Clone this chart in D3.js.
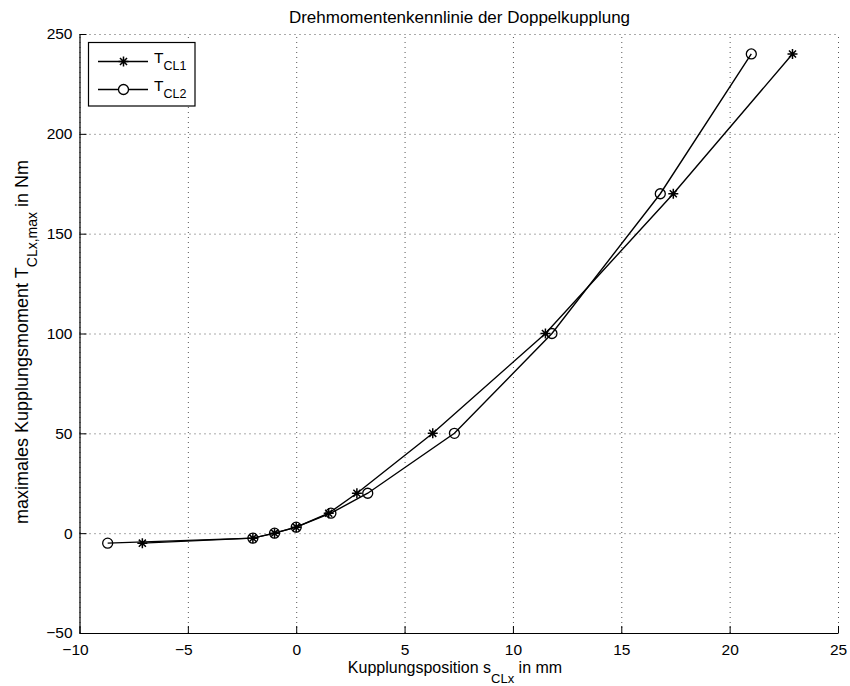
<!DOCTYPE html>
<html>
<head>
<meta charset="utf-8">
<script src="https://cdn.jsdelivr.net/npm/d3@7"></script>
<style>
  body { margin: 0; background: #fff; }
  svg text { font-family: "Liberation Sans", Arial, Helvetica, sans-serif; fill: #000; }
</style>
</head>
<body>
<svg id="chart" width="850" height="686"></svg>
<script>
// data
let posCL1 = [-7.1, -2, -1, 0, 1.5, 2.8, 6.3, 11.5, 17.4, 22.9];
let torqueCL1 = [-5, -2.5, 0, 3, 10, 20, 50, 100, 170, 240];
let posCL2 = [-8.7, -2, -1, 0, 1.6, 3.3, 7.3, 11.8, 16.8, 21];
let torqueCL2 = [-5, -2.5, 0, 3, 10, 20, 50, 100, 170, 240];
let xTicks = [-10, -5, 0, 5, 10, 15, 20, 25];
let yTicks = [-50, 0, 50, 100, 150, 200, 250];

let margin = {top: 34, right: 12, bottom: 53, left: 79.5};
let width = 850 - margin.left - margin.right;
let height = 686 - margin.top - margin.bottom;

let svg = d3.select("#chart");

let xscale = d3.scaleLinear().domain([-10, 25]).range([0, width]);
let yscale = d3.scaleLinear().domain([-50, 250]).range([height, 0]);

let g = svg.append("g")
	.attr("transform", "translate(" + margin.left + "," + margin.top + ")");

// dotted grid
g.append("g")
	.attr("class", "grid")
	.attr("transform", "translate(0," + height + ")")
	.call(d3.axisBottom(xscale).tickValues(xTicks).tickSize(-height).tickFormat(""))
	.call(s => s.select(".domain").remove());
g.append("g")
	.attr("class", "grid")
	.call(d3.axisLeft(yscale).tickValues(yTicks).tickSize(-width).tickFormat(""))
	.call(s => s.select(".domain").remove());
g.selectAll(".grid line")
	.attr("stroke", "#555")
	.attr("stroke-width", 1)
	.attr("stroke-dasharray", "1,4");

let fmt = d => (d < 0 ? "\u2212" : "") + Math.abs(d);

// axes, ticks pointing inward
let xAxis = g.append("g")
	.attr("transform", "translate(0," + height + ")")
	.call(d3.axisBottom(xscale).tickValues(xTicks).tickSizeInner(-7).tickSizeOuter(0)
		.tickPadding(11).tickFormat(fmt));
xAxis.selectAll("text").attr("dx", d => d < 0 ? -4.5 : 0);

let yAxis = g.append("g")
	.call(d3.axisLeft(yscale).tickValues(yTicks).tickSizeInner(-7).tickSizeOuter(0)
		.tickPadding(7).tickFormat(fmt));

g.selectAll(".domain").attr("stroke", "#000").attr("stroke-width", 1.2);
g.selectAll(".tick line").filter(function() { return !this.closest(".grid"); })
	.attr("stroke", "#000").attr("stroke-width", 1);
xAxis.selectAll("text").style("font-size", "15.5px").attr("fill", "#000");
yAxis.selectAll("text").style("font-size", "15.5px").attr("fill", "#000");

// lines
let line = d3.line().x(d => xscale(d[0])).y(d => yscale(d[1]));
let pts1 = d3.zip(posCL1, torqueCL1);
let pts2 = d3.zip(posCL2, torqueCL2);

g.append("path").datum(pts1).attr("d", line)
	.attr("fill", "none").attr("stroke", "#000").attr("stroke-width", 1.4);
g.append("path").datum(pts2).attr("d", line)
	.attr("fill", "none").attr("stroke", "#000").attr("stroke-width", 1.4);

function star(sel, r) {
	let d = r * 0.7071;
	sel.append("path")
		.attr("d", "M" + (-r) + ",0H" + r + "M0," + (-r) + "V" + r +
			"M" + (-d) + "," + (-d) + "L" + d + "," + d +
			"M" + (-d) + "," + d + "L" + d + "," + (-d))
		.attr("stroke", "#000").attr("stroke-width", 1.5).attr("fill", "none");
}

g.append("g").selectAll("g").data(pts1).enter().append("g")
	.attr("transform", d => "translate(" + xscale(d[0]) + "," + yscale(d[1]) + ")")
	.call(star, 5);

g.append("g").selectAll("circle").data(pts2).enter().append("circle")
	.attr("cx", d => xscale(d[0]))
	.attr("cy", d => yscale(d[1]))
	.attr("r", 5)
	.attr("fill", "none").attr("stroke", "#000").attr("stroke-width", 1.3);

// legend
let legend = svg.append("g");
legend.append("rect")
	.attr("x", 88.5).attr("y", 42.5).attr("width", 106.5).attr("height", 63.5)
	.attr("fill", "#fff").attr("stroke", "#000").attr("stroke-width", 1.2);

let entries = [{name: "CL1", y: 61.5, mark: "star"}, {name: "CL2", y: 89.5, mark: "circle"}];
entries.forEach(function(e) {
	legend.append("line")
		.attr("x1", 98).attr("x2", 148).attr("y1", e.y).attr("y2", e.y)
		.attr("stroke", "#000").attr("stroke-width", 1.4);
	if (e.mark == "star") {
		legend.append("g").attr("transform", "translate(123.5," + e.y + ")").call(star, 5);
	} else {
		legend.append("circle").attr("cx", 123.5).attr("cy", e.y).attr("r", 5)
			.attr("fill", "#fff").attr("stroke", "#000").attr("stroke-width", 1.3);
	}
	let t = legend.append("text").attr("x", 154).attr("y", e.y + 1.5).style("font-size", "15.5px");
	t.append("tspan").text("T");
	t.append("tspan").attr("dy", 7).style("font-size", "12.5px").text(e.name);
});

// title and labels
svg.append("text")
	.attr("x", 459.5).attr("y", 22.5)
	.attr("text-anchor", "middle").style("font-size", "17px")
	.text("Drehmomentenkennlinie der Doppelkupplung");

let xl = svg.append("text")
	.attr("x", 455).attr("y", 672.5)
	.attr("text-anchor", "middle").style("font-size", "16px");
xl.append("tspan").text("Kupplungsposition s");
xl.append("tspan").attr("dy", 10.5).style("font-size", "13px").text("CLx");
xl.append("tspan").attr("dy", -10.5).text(" in mm");

let yl = svg.append("text")
	.attr("transform", "translate(28,342) rotate(-90)")
	.attr("text-anchor", "middle").style("font-size", "18px");
yl.append("tspan").text("maximales Kupplungsmoment T");
yl.append("tspan").attr("dy", 9).style("font-size", "14px").text("CLx,max");
yl.append("tspan").attr("dy", -9).text(" in Nm");
</script>
</body>
</html>
